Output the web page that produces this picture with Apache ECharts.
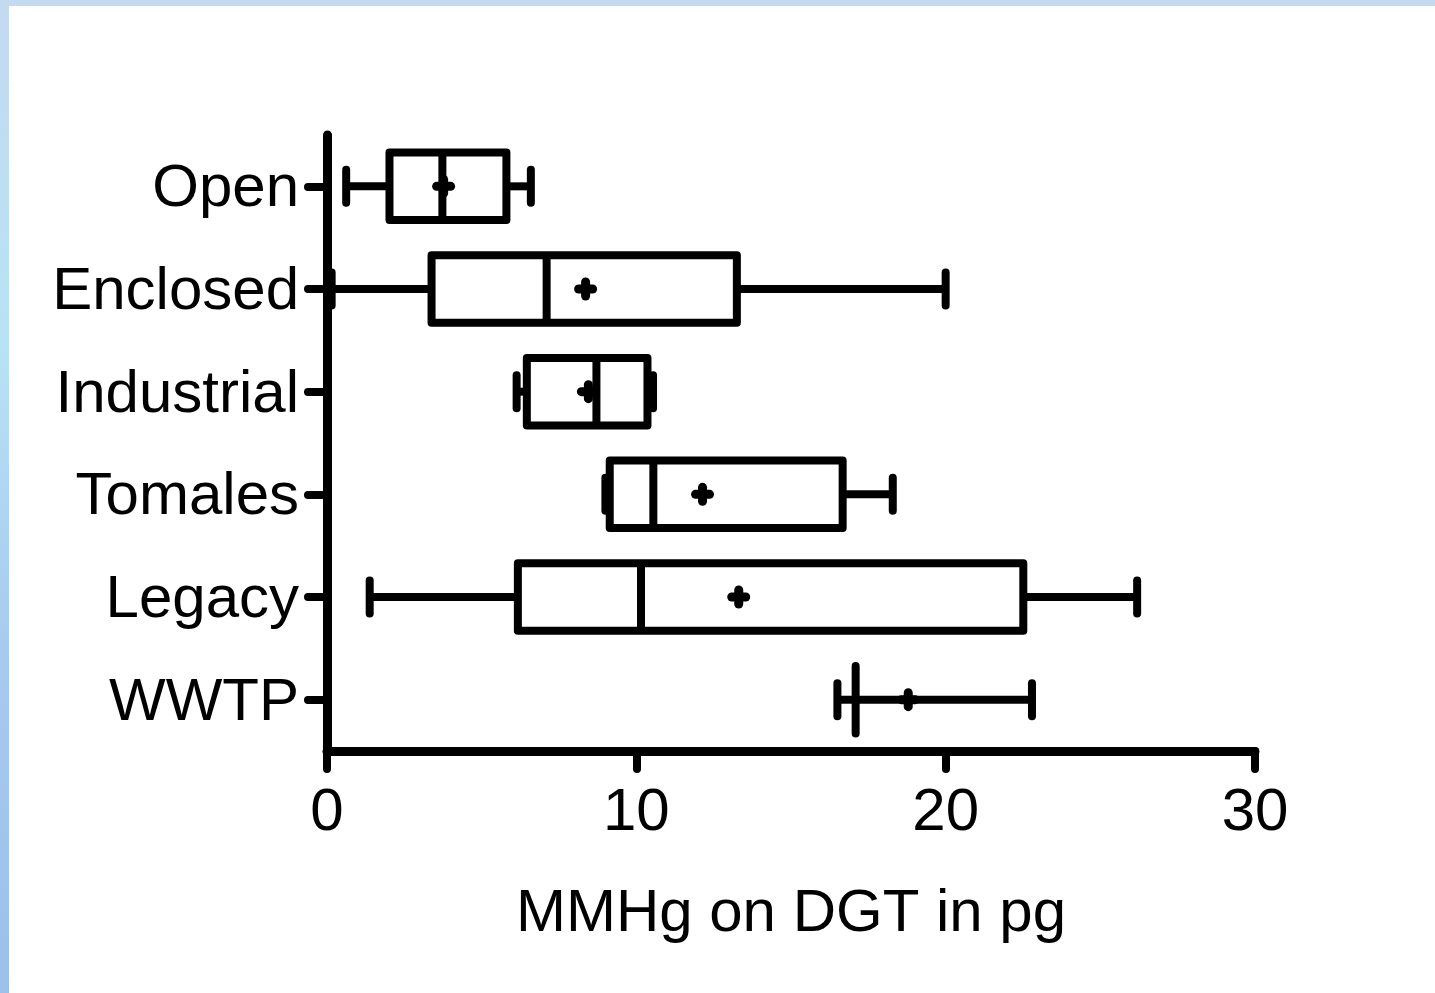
<!DOCTYPE html>
<html><head><meta charset="utf-8">
<script src="https://cdn.jsdelivr.net/npm/echarts@6/dist/echarts.min.js"></script>
<style>
html,body{margin:0;padding:0;width:1435px;height:993px;overflow:hidden;
  background:linear-gradient(180deg,#c4daf1 0%,#b8e2f5 35%,#a8caef 65%,#9cc0ec 100%);}
#panel{position:absolute;left:9px;top:6px;right:0;bottom:0;background:#fff;}
#chart{position:absolute;left:0;top:0;width:1435px;height:993px;}
</style></head><body><div id="panel"></div><div id="chart"></div>
<script>
const categories = ['Open', 'Enclosed', 'Industrial', 'Tomales', 'Legacy', 'WWTP'];
const minVals    = [0.62, 0.15, 6.13, 9.00, 1.38, 16.50];
const q1Vals     = [2.02, 3.38, 6.46, 9.14, 6.17, null];
const medianVals = [3.73, 7.10, 8.71, 10.55, 10.15, 17.09];
const q3Vals     = [5.80, 13.25, 10.36, 16.67, 22.51, null];
const maxVals    = [6.59, 20.00, 10.54, 18.29, 26.19, 22.79];
const meanVals   = [3.77, 8.36, 8.45, 12.14, 13.31, 18.79];
const xTicks = [0, 10, 20, 30];
const xTitle = 'MMHg on DGT in pg';

const FONT = '"Liberation Sans", Arial, Helvetica, sans-serif';

const seriesData = categories.map((c, i) =>
  [i, minVals[i], q1Vals[i], medianVals[i], q3Vals[i], maxVals[i], meanVals[i]]);

function isNum(v) { return v != null && !isNaN(v); }

function renderItem(params, api) {
  const i = api.value(0);
  const vMin = api.value(1), vQ1 = api.value(2), vMed = api.value(3),
        vQ3 = api.value(4), vMax = api.value(5), vMean = api.value(6);
  const bandH = api.size([0, 1])[1];
  const boxH = bandH * 0.657;
  const capHalf = 16.5;
  const arm = 7;
  const lw = 8;
  const px = v => api.coord([v, i])[0];
  const y = api.coord([vMin, i])[1];
  const line = (x1, y1, x2, y2, cap, w) => ({
    type: 'line',
    shape: { x1, y1, x2, y2 },
    style: { stroke: '#000', lineWidth: w || lw, lineCap: cap || 'butt' }
  });
  const ch = [];
  const hasBox = isNum(vQ1) && isNum(vQ3);
  const xMin = px(vMin), xMax = px(vMax);
  if (hasBox) {
    const xQ1 = px(vQ1), xQ3 = px(vQ3);
    ch.push(line(xMin, y, xQ1, y));
    ch.push(line(xQ3, y, xMax, y));
    ch.push({
      type: 'rect',
      shape: { x: xQ1, y: y - boxH / 2, width: xQ3 - xQ1, height: boxH },
      style: { fill: '#fff', stroke: '#000', lineWidth: lw, lineJoin: 'round' }
    });
    const xMed = px(vMed);
    ch.push(line(xMed, y - boxH / 2, xMed, y + boxH / 2));
  } else {
    ch.push(line(xMin, y, xMax, y));
    const xMed = px(vMed);
    ch.push(line(xMed, y - boxH / 2, xMed, y + boxH / 2, 'round'));
  }
  ch.push(line(xMin, y - capHalf, xMin, y + capHalf, 'round'));
  ch.push(line(xMax, y - capHalf, xMax, y + capHalf, 'round'));
  const xMean = px(vMean);
  ch.push(line(xMean - arm, y, xMean + arm, y, 'round', 9));
  ch.push(line(xMean, y - arm, xMean, y + arm, 'round', 9));
  return { type: 'group', children: ch };
}

const chart = echarts.init(document.getElementById('chart'), null, { renderer: 'canvas' });
chart.setOption({
  backgroundColor: 'transparent',
  animation: false,
  grid: { left: 327, right: 180, top: 135, bottom: 242, containLabel: false },
  xAxis: {
    type: 'value',
    min: xTicks[0],
    max: xTicks[xTicks.length - 1],
    interval: xTicks[1] - xTicks[0],
    axisLine: { show: true, lineStyle: { color: '#000', width: 9 } },
    axisTick: { show: true, length: 18, lineStyle: { color: '#000', width: 8, cap: 'round' } },
    axisLabel: { color: '#000', fontSize: 60, fontFamily: FONT, margin: 32 },
    splitLine: { show: false },
    name: xTitle,
    nameLocation: 'middle',
    nameGap: 133,
    nameTextStyle: { color: '#000', fontSize: 60, fontFamily: FONT }
  },
  yAxis: {
    type: 'category',
    data: categories,
    inverse: true,
    axisLine: { show: true, lineStyle: { color: '#000', width: 9 } },
    axisTick: { show: true, alignWithLabel: true, length: 19, lineStyle: { color: '#000', width: 8, cap: 'round' } },
    axisLabel: {
      color: '#000', fontSize: 60, fontFamily: FONT, margin: 28,
      formatter: '{a|{value}}',
      rich: { a: { color: '#000', fontSize: 60, fontFamily: FONT, padding: [7, 0, 0, 0] } }
    },
    splitLine: { show: false }
  },
  series: [{
    type: 'custom',
    renderItem: renderItem,
    data: seriesData,
    encode: { y: 0, x: [1, 5] },
    clip: false,
    z: 5
  }]
});
</script>
</body></html>
